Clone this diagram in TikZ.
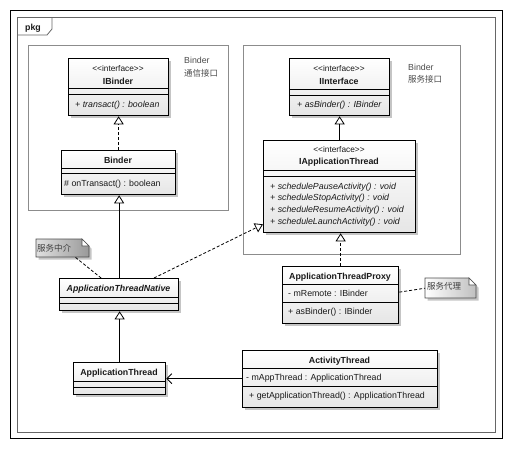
\documentclass[tikz,border=0pt]{standalone}
\usepackage{fontspec}
\setmainfont{Liberation Sans}
\newfontfamily\cjk{Noto Sans CJK SC}
\usetikzlibrary{arrows.meta,shadows,calc}
\begin{document}
\begin{tikzpicture}[x=1pt,y=-1pt,
  cls/.style={draw=black,line width=1.3pt,top color=white,bottom color=black!10,
     drop shadow={shadow xshift=2.5pt,shadow yshift=-2.5pt,fill=black!45,opacity=0.5},
     inner sep=0pt,anchor=north west},
  sepl/.style={line width=0.7pt},
  tx/.style={inner sep=0pt,font=\fontsize{8.8}{10}\selectfont,text=black!90},
  nm/.style={tx,font=\fontsize{8.8}{10}\selectfont\bfseries},
  nmi/.style={tx,font=\fontsize{8.8}{10}\selectfont\bfseries\itshape},
  st/.style={tx,font=\fontsize{8.3}{10}\selectfont},
  op/.style={tx,anchor=west,font=\fontsize{8.8}{10}\selectfont\itshape},
  attr/.style={tx,anchor=west},
  lbl/.style={tx,anchor=west,text=black!70},
  cj/.style={inner sep=0pt,anchor=west,font=\fontsize{8.5}{10}\cjk,text=black!70},
  pk/.style={draw=black!60,line width=0.8pt},
  pkgbox/.style={draw=black!45,line width=0.8pt},
  notebox/.style={draw=black!70,line width=0.7pt,left color=black!12,right color=black!40},
  noteanchor/.style={inner sep=0pt,anchor=north west},
  real/.style={line width=0.8pt,dash pattern=on 3pt off 2pt,-{Triangle[open,length=8pt,width=10pt]}},
  gen/.style={line width=0.8pt,-{Triangle[open,length=8pt,width=10pt]}},
  assoc/.style={line width=0.8pt,-{Straight Barb[length=5pt,width=10pt]}},
  nlink/.style={line width=0.8pt,dash pattern=on 3pt off 2pt},
]
\useasboundingbox (0,0) rectangle (515,448);
% frames
\draw[line width=1pt] (10,10) rectangle (502,438);
\draw[pk] (17,17) rectangle (495,432);
\draw[pk] (17,35) -- (47,35) -- (52,29) -- (52,17);
\node[nm] (pkg) at (33,28) {pkg};
% packages
\draw[pkgbox] (28,45) rectangle (228,210);
\draw[pkgbox] (243,45) rectangle (460,254);
\node[lbl] (lb1) at (184,60) {Binder};
\node[cj] (lb1c) at (184,73) {通信接口};
\node[lbl] (lb2) at (408,67) {Binder};
\node[cj] (lb2c) at (408,79) {服务接口};
% IBinder
\node[cls,minimum width=100pt,minimum height=57pt] (ibinder) at (68,58) {};
\draw[sepl] (68,88) -- (168,88) (68,94) -- (168,94);
\node[st] (ibinders) at (118,69) {<\kern0pt<interface>\kern0pt>};
\node[nm] (ibindern) at (118,81) {IBinder};
\node[op] (ibindero) at (75,105) {+ transact() : boolean};
% Binder
\node[cls,minimum width=114pt,minimum height=44pt] (binder) at (61,150) {};
\draw[sepl] (61,168) -- (175,168) (61,173) -- (175,173);
\node[nm] (bindern) at (118,160) {Binder};
\node[attr] (bindero) at (64,184) {\# onTransact() : boolean};
% IInterface
\node[cls,minimum width=100pt,minimum height=57pt] (iinterface) at (289,58) {};
\draw[sepl] (289,89) -- (389,89) (289,95) -- (389,95);
\node[st] (iinterfaces) at (339,69) {<\kern0pt<interface>\kern0pt>};
\node[nm] (iinterfacen) at (339,81) {IInterface};
\node[op] (iinterfaceo) at (297,105) {+ asBinder() : IBinder};
% IApplicationThread
\node[cls,minimum width=152pt,minimum height=92pt] (iat) at (263,140) {};
\draw[sepl] (263,170) -- (415,170) (263,176) -- (415,176);
\node[st] (iats) at (339,150) {<\kern0pt<interface>\kern0pt>};
\node[nm] (iatn) at (339,162) {IApplicationThread};
\node[op] (iato1) at (270,187) {+ schedulePauseActivity() : void};
\node[op] (iato2) at (270,198) {+ scheduleStopActivity() : void};
\node[op] (iato3) at (270,210) {+ scheduleResumeActivity() : void};
\node[op] (iato4) at (270,222) {+ scheduleLaunchActivity() : void};
% ApplicationThreadProxy
\node[cls,minimum width=116pt,minimum height=57pt] (proxy) at (282,266) {};
\draw[sepl] (282,284) -- (398,284) (282,302) -- (398,302);
\node[nm] (proxyn) at (340,277) {ApplicationThreadProxy};
\node[attr] (proxya) at (288,293) {- mRemote : IBinder};
\node[attr] (proxyo) at (288,312) {+ asBinder() : IBinder};
% ActivityThread
\node[cls,minimum width=195pt,minimum height=57pt] (act) at (242,350) {};
\draw[sepl] (242,368) -- (437,368) (242,386) -- (437,386);
\node[nm] (actn) at (339.5,361) {ActivityThread};
\node[attr] (acta) at (246,378) {- mAppThread : ApplicationThread};
\node[attr] (acto) at (249,396) {+ getApplicationThread() : ApplicationThread};
% ApplicationThreadNative
\node[cls,minimum width=119pt,minimum height=32pt] (native) at (59,278) {};
\draw[sepl] (59,297) -- (178,297) (59,303) -- (178,303);
\node[nmi] (nativen) at (118.5,289) {ApplicationThreadNative};
% ApplicationThread
\node[cls,minimum width=92pt,minimum height=32pt] (app) at (73,362) {};
\draw[sepl] (73,381) -- (165,381) (73,387) -- (165,387);
\node[nm] (appn) at (119,373) {ApplicationThread};
% notes
\fill[black!45,opacity=0.5] (38.5,241.5) -- (84.5,241.5) -- (91.5,248.5) -- (91.5,259.5) -- (38.5,259.5) -- cycle;
\draw[notebox] (36,239) -- (82,239) -- (89,246) -- (89,257) -- (36,257) -- cycle;
\draw[line width=0.7pt,draw=black!70,fill=white] (82,239) -- (82,246) -- (89,246) -- cycle;
\node[noteanchor,minimum width=53pt,minimum height=18pt] (n1) at (36,239) {};
\node[cj,text=black!75] (n1t) at (37,248) {服务中介};
\fill[black!45,opacity=0.5] (427.5,280.5) -- (471.5,280.5) -- (478.5,287.5) -- (478.5,300.5) -- (427.5,300.5) -- cycle;
\draw[notebox,left color=white,right color=black!25] (425,278) -- (469,278) -- (476,285) -- (476,298) -- (425,298) -- cycle;
\draw[line width=0.7pt,draw=black!70,fill=white] (469,278) -- (469,285) -- (476,285) -- cycle;
\node[noteanchor,minimum width=51pt,minimum height=20pt] (n2) at (425,278) {};
\node[cj,text=black!75] (n2t) at (427,286) {服务代理};
% connectors
\draw[real] (binder.north) -- (ibinder.south);
\draw[gen] (iat.north) -- (iinterface.south);
\draw[real] (proxy.north) -- (proxy.north |- iat.south);
\draw[gen] (native.north) -- (native.north |- binder.south);
\draw[gen] (app.north) -- (app.north |- native.south);
\coordinate (nativeR) at ($(native.north west)!0.79!(native.north east)$);
\coordinate (iatL) at ($(iat.south west)+(0,-9)$);
\draw[real] (nativeR) -- (iatL);
\draw[assoc] (act.west |- app.east) -- (app.east);
\coordinate (proxyR) at ($(proxy.east)+(0,-3)$);
\draw[nlink] (proxyR) -- (n2.west);
\coordinate (n1B) at ($(n1.south west)!0.74!(n1.south east)$);
\coordinate (nativeL) at ($(native.north west)!0.35!(native.north east)$);
\draw[nlink] (n1B) -- (nativeL);
\end{tikzpicture}
\end{document}
